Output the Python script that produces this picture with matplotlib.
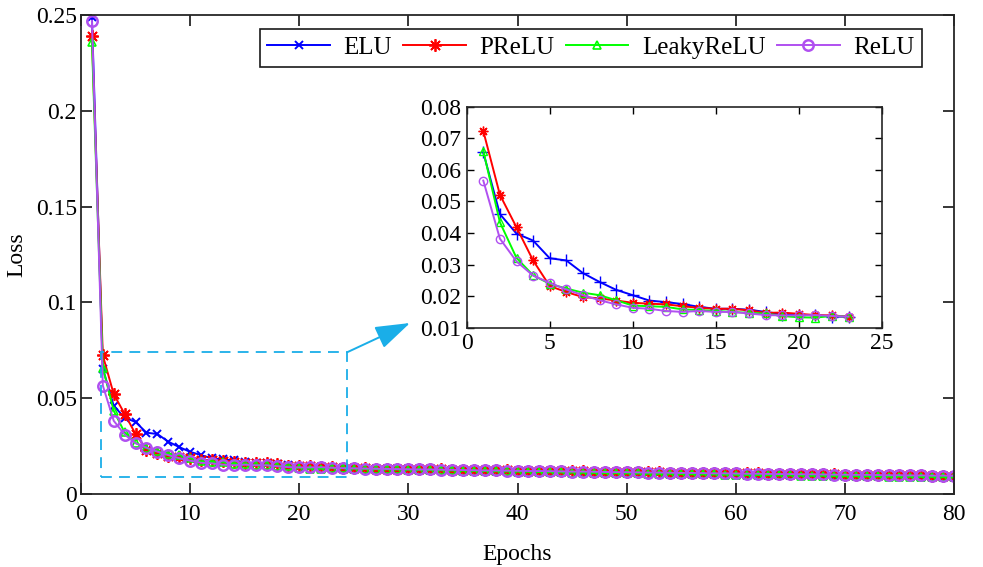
import matplotlib
matplotlib.use("Agg")
import matplotlib.pyplot as plt
from matplotlib.patches import Rectangle
import numpy as np

plt.rcParams['font.family'] = ['Liberation Serif', 'DejaVu Serif']

epochs = list(range(1, 81))
series_names = ["ELU", "PReLU", "LeakyReLU", "ReLU"]

elu = [0.249,
       0.0655, 0.0460, 0.0398, 0.0376, 0.0320, 0.0313, 0.0273, 0.0245, 0.0220, 0.0203, 0.0186, 0.0181,
       0.0175, 0.0166, 0.0160, 0.0160, 0.0157, 0.0150, 0.0141, 0.0140, 0.0140, 0.0135, 0.0135,
       0.0133, 0.0132, 0.0131, 0.0130, 0.0129, 0.0128, 0.0127, 0.0126,
       0.0125, 0.0124, 0.0122, 0.0121, 0.0120, 0.0119, 0.0118, 0.0117,
       0.0116, 0.0115, 0.0114, 0.0114, 0.0113, 0.0112, 0.0111, 0.0110,
       0.0110, 0.0109, 0.0108, 0.0107, 0.0107, 0.0106, 0.0105, 0.0104,
       0.0104, 0.0103, 0.0102, 0.0101, 0.0101, 0.0100, 0.0099, 0.0099,
       0.0098, 0.0097, 0.0097, 0.0096, 0.0096, 0.0095, 0.0094, 0.0094,
       0.0093, 0.0093, 0.0092, 0.0092, 0.0091, 0.0091, 0.0090, 0.0090]

prelu = [0.239,
         0.0723, 0.0521, 0.0418, 0.0313, 0.0232, 0.0213, 0.0197, 0.0193, 0.0186, 0.0179, 0.0176, 0.0174,
         0.0168, 0.0163, 0.0160, 0.0160, 0.0155, 0.0147, 0.0148, 0.0144, 0.0140, 0.0139, 0.0135,
         0.0135, 0.0134, 0.0133, 0.0132, 0.0131, 0.0131, 0.0130, 0.0129,
         0.0128, 0.0127, 0.0126, 0.0126, 0.0125, 0.0124, 0.0123, 0.0122,
         0.0122, 0.0121, 0.0120, 0.0119, 0.0119, 0.0118, 0.0117, 0.0116,
         0.0116, 0.0115, 0.0114, 0.0114, 0.0113, 0.0112, 0.0111, 0.0111,
         0.0110, 0.0109, 0.0109, 0.0108, 0.0107, 0.0107, 0.0106, 0.0105,
         0.0105, 0.0104, 0.0103, 0.0103, 0.0102, 0.0101, 0.0101, 0.0100,
         0.0099, 0.0099, 0.0098, 0.0098, 0.0097, 0.0096, 0.0096, 0.0095]

leaky = [0.236,
         0.0660, 0.0434, 0.0321, 0.0266, 0.0239, 0.0224, 0.0211, 0.0203, 0.0187, 0.0170, 0.0168, 0.0166,
         0.0158, 0.0156, 0.0153, 0.0150, 0.0147, 0.0145, 0.0137, 0.0133, 0.0132, 0.0137, 0.0135,
         0.0133, 0.0131, 0.0130, 0.0129, 0.0128, 0.0127, 0.0126, 0.0125,
         0.0124, 0.0123, 0.0122, 0.0121, 0.0120, 0.0119, 0.0118, 0.0117,
         0.0116, 0.0115, 0.0114, 0.0113, 0.0112, 0.0111, 0.0110, 0.0109,
         0.0109, 0.0108, 0.0107, 0.0106, 0.0105, 0.0105, 0.0104, 0.0103,
         0.0102, 0.0102, 0.0101, 0.0100, 0.0099, 0.0099, 0.0098, 0.0097,
         0.0097, 0.0096, 0.0095, 0.0095, 0.0094, 0.0093, 0.0093, 0.0092,
         0.0092, 0.0091, 0.0091, 0.0090, 0.0089, 0.0089, 0.0088, 0.0088]

relu = [0.247,
        0.0566, 0.0382, 0.0310, 0.0265, 0.0242, 0.0221, 0.0203, 0.0187, 0.0174, 0.0163, 0.0160, 0.0153,
        0.0150, 0.0153, 0.0150, 0.0150, 0.0145, 0.0140, 0.0139, 0.0139, 0.0140, 0.0137, 0.0135,
        0.0134, 0.0133, 0.0132, 0.0131, 0.0130, 0.0129, 0.0128, 0.0128,
        0.0127, 0.0126, 0.0125, 0.0124, 0.0123, 0.0123, 0.0122, 0.0121,
        0.0120, 0.0120, 0.0119, 0.0118, 0.0117, 0.0117, 0.0116, 0.0115,
        0.0114, 0.0114, 0.0113, 0.0112, 0.0112, 0.0111, 0.0110, 0.0110,
        0.0109, 0.0108, 0.0108, 0.0107, 0.0106, 0.0106, 0.0105, 0.0104,
        0.0104, 0.0103, 0.0103, 0.0102, 0.0101, 0.0101, 0.0100, 0.0100,
        0.0099, 0.0098, 0.0098, 0.0097, 0.0097, 0.0096, 0.0096, 0.0095]

main_xticks = [0, 10, 20, 30, 40, 50, 60, 70, 80]
main_yticks = [0, 0.05, 0.1, 0.15, 0.2, 0.25]
main_yticklabels = ["0", "0.05", "0.1", "0.15", "0.2", "0.25"]
inset_xticks = [0, 5, 10, 15, 20, 25]
inset_yticks = [0.01, 0.02, 0.03, 0.04, 0.05, 0.06, 0.07, 0.08]
inset_yticklabels = ["0.01", "0.02", "0.03", "0.04", "0.05", "0.06", "0.07", "0.08"]

colors = ["#0000FF", "#FF0000", "#00FF00", "#B050F0"]
ASTER = (8, 2, 0)
main_markers = ["x", ASTER, "^", "o"]
inset_markers = ["+", ASTER, "^", "o"]
box_color = "#1AAEE8"
spine_color = "#262626"
FS = 17
LFS = 18

W, H = 983, 567
fig = plt.figure(figsize=(W / 100, H / 100), dpi=100)

ax = fig.add_axes([81 / W, 1 - 494 / H, (954 - 81) / W, (494 - 15) / H])
data = [elu, prelu, leaky, relu]
main_ms = [6, 9, 6, 7.5]
main_mew = [1.4, 1.3, 1.2, 1.8]
for vals, c, m, ms, mew, name in zip(data, colors, main_markers, main_ms, main_mew, series_names):
    hollow = m in ('^', 'o')
    ax.plot(epochs, vals, color=c, marker=m, ms=ms, mew=mew, lw=1.4,
            mfc='none' if hollow else c, mec=c, label=name)

ax.set_xlim(0, 80)
ax.set_ylim(0, 0.25)
ax.set_xticks(main_xticks)
ax.set_yticks(main_yticks)
ax.set_yticklabels(main_yticklabels)
ax.tick_params(direction='in', length=8, width=1.1, top=True, right=True,
               labelsize=FS, colors='black', pad=7)
ax.tick_params(axis='y', pad=3)
for s in ax.spines.values():
    s.set_color(spine_color)
    s.set_linewidth(1.3)
ax.set_xlabel("Epochs", fontsize=FS, labelpad=14)
ax.set_ylabel("Loss", fontsize=FS, labelpad=6)

# dashed zoom box
zx0, zx1 = 1.8, 24.4
zy0, zy1 = 0.0088, 0.0740
rect = Rectangle((zx0, zy0), zx1 - zx0, zy1 - zy0, fill=False, ls=(0, (6, 4)),
                 lw=1.3, ec=box_color, zorder=5)
ax.add_patch(rect)

# arrow to inset
ax.annotate("", xy=(410 / W, 1 - 323 / H), xycoords='figure fraction',
            xytext=(zx1, zy1), textcoords='data',
            arrowprops=dict(arrowstyle='-|>,head_length=1.2,head_width=0.4',
                            color=box_color, lw=1.4, mutation_scale=18,
                            shrinkA=0, shrinkB=0))

leg = ax.legend(loc='upper right', bbox_to_anchor=(922 / W, 1 - 29 / H),
                bbox_transform=fig.transFigure, ncol=4, fontsize=LFS,
                frameon=True, fancybox=False, handlelength=2.5,
                handletextpad=0.55, columnspacing=0.45, borderpad=0.3,
                borderaxespad=0)
leg.get_frame().set_edgecolor('#1a1a1a')
leg.get_frame().set_linewidth(1.2)
leg.get_frame().set_alpha(1)

# inset
ins = fig.add_axes([466.7 / W, 1 - 327.7 / H, (881.7 - 466.7) / W, (327.7 - 106.7) / H])
inset_epochs = list(range(1, 24))
inset_ms = [8, 7, 6, 6]
for vals, c, m, ms in zip(data, colors, inset_markers, inset_ms):
    hollow = m in ('^', 'o')
    ins.plot(inset_epochs, vals[1:24], color=c, marker=m, ms=ms, mew=1.0, lw=1.4,
             mfc='none' if hollow else c, mec=c)
ins.set_xlim(0, 25)
ins.set_ylim(0.01, 0.08)
ins.set_xticks(inset_xticks)
ins.set_yticks(inset_yticks)
ins.set_yticklabels(inset_yticklabels)
ins.tick_params(direction='in', length=5, width=1.0, top=True, right=True,
                labelsize=FS, colors='black', pad=4)
for s in ins.spines.values():
    s.set_color(spine_color)
    s.set_linewidth(1.2)

fig.savefig("out.png", dpi=100)
